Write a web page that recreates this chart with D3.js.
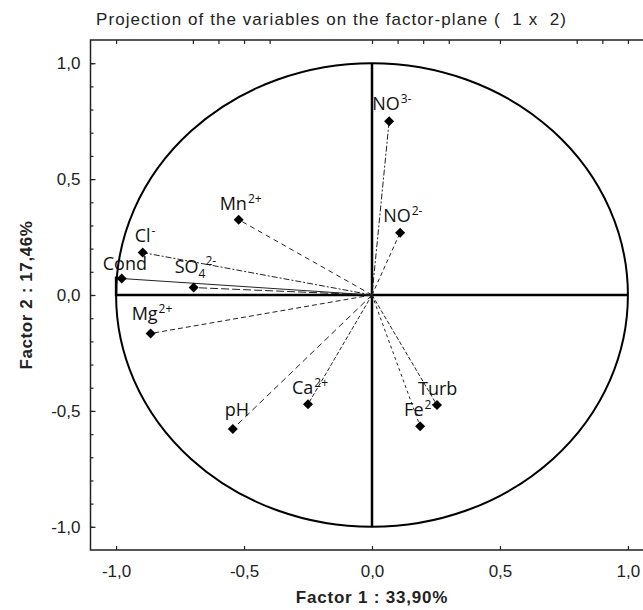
<!DOCTYPE html>
<html>
<head>
<meta charset="utf-8">
<script src="https://cdn.jsdelivr.net/npm/d3@7"></script>
<style>
  body { margin: 0; background: #fff; }
  svg { display: block; }
  .tick text { font-family: "Liberation Sans", Arial, sans-serif; font-size: 17px; fill: #222; }
</style>
</head>
<body>
<script>
// Factor-plane projection (circle of correlations)

// Data
var variables = ["NO3-", "NO2-", "Mn2+", "Cl-", "Cond", "SO42-", "Mg2+", "Ca2+", "pH", "Turb", "Fe2+"];
var factor1 = [0.067, 0.110, -0.521, -0.896, -0.978, -0.697, -0.865, -0.250, -0.544, 0.254, 0.188];
var factor2 = [0.750, 0.269, 0.325, 0.183, 0.071, 0.032, -0.166, -0.471, -0.578, -0.475, -0.566];
var labelBase = ["NO", "NO", "Mn", "Cl", "Cond", "SO", "Mg", "Ca", "pH", "Turb", "Fe"];
var labelSub = ["", "", "", "", "", "4", "", "", "", "", ""];
var labelSup = ["3-", "2-", "2+", "-", "", "2-", "2+", "2+", "", "", "2+"];

var majorTicks = [-1.0, -0.5, 0.0, 0.5, 1.0];
var minorTicks = d3.range(-10, 11).map(function(d) { return d / 10; });
var topTicks = [-1.0, -0.7, -0.6, -0.5, -0.4, 0.0, 0.1, 0.2, 0.3, 0.5, 0.8, 0.9, 1.0];

var titleText = "Projection of the variables on the factor-plane (  1 x  2)";
var xTitle = "Factor 1 : 33,90%";
var yTitle = "Factor 2 : 17,46%";

// Label placement relative to each marker (pixels)
var labelOffset = {
    "NO3-": [-17, -11], "NO2-": [-17, -11], "Mn2+": [-19, -10], "Cl-": [-8, -11],
    "Cond": [-19, -9], "SO42-": [-19, -15], "Mg2+": [-19, -13], "Ca2+": [-16, -10],
    "pH": [-8, -13], "Turb": [-19, -10], "Fe2+": [-16, -10]
};
var dashStyle = {
    "NO3-": "6,2,2,2", "NO2-": "4,3", "Mn2+": "5,4", "Cl-": "6,2,2,2",
    "Cond": "none", "SO42-": "8,3", "Mg2+": "5,3", "Ca2+": "4,2",
    "pH": "6,4", "Turb": "4,2", "Fe2+": "3,3"
};

var w = 643;
var h = 610;

var x = d3.scaleLinear().domain([-1.1, 1.1]).range([90.5, 653.5]);
var y = d3.scaleLinear().domain([-1.1, 1.1]).range([550, 40]);

function fmt(d) {
    return d.toFixed(1).replace(".", ",");
}

var svg = d3.select("body").append("svg")
    .attr("width", w)
    .attr("height", h);

// Title
svg.append("text")
    .attr("x", 96)
    .attr("y", 25)
    .attr("textLength", 470)
    .attr("lengthAdjust", "spacing")
    .style("font-family", "Liberation Sans, Arial, sans-serif")
    .style("font-size", "17px")
    .style("fill", "#222")
    .style("white-space", "pre")
    .text(titleText);

// Axis titles
svg.append("text")
    .attr("x", x(0))
    .attr("y", 603)
    .attr("text-anchor", "middle")
    .style("font-family", "Liberation Sans, Arial, sans-serif")
    .style("font-size", "17px")
    .style("font-weight", "bold")
    .style("letter-spacing", "0.8px")
    .style("fill", "#222")
    .text(xTitle);

svg.append("text")
    .attr("transform", "translate(32," + y(0) + ") rotate(-90)")
    .attr("text-anchor", "middle")
    .style("font-family", "Liberation Sans, Arial, sans-serif")
    .style("font-size", "17px")
    .style("font-weight", "bold")
    .style("letter-spacing", "0.6px")
    .style("fill", "#222")
    .text(yTitle);

// Frame
svg.append("path")
    .attr("d", "M" + w + "," + y.range()[1] + "H" + x.range()[0] + "V" + y.range()[0] + "H" + w)
    .attr("fill", "none")
    .attr("stroke", "#222")
    .attr("stroke-width", 1.5);

// Axes with inward ticks
var gLeftMinor = svg.append("g")
    .attr("transform", "translate(" + x.range()[0] + ",0)")
    .call(d3.axisLeft(y).tickValues(minorTicks).tickSize(-3).tickFormat(""));

var gLeft = svg.append("g")
    .attr("transform", "translate(" + x.range()[0] + ",0)")
    .call(d3.axisLeft(y).tickValues(majorTicks).tickSizeInner(-5).tickSizeOuter(0).tickPadding(10).tickFormat(fmt));

var gBottom = svg.append("g")
    .attr("transform", "translate(0," + y.range()[0] + ")")
    .call(d3.axisBottom(x).tickValues(majorTicks).tickSizeInner(-4).tickSizeOuter(0).tickPadding(15).tickFormat(fmt));

var gTop = svg.append("g")
    .attr("transform", "translate(0," + y.range()[1] + ")")
    .call(d3.axisTop(x).tickValues(topTicks).tickSize(-4).tickFormat(""));

[gLeftMinor, gLeft, gBottom, gTop].forEach(function(g) {
    g.select(".domain").remove();
    g.selectAll(".tick line").attr("stroke", "#222").attr("stroke-width", 1.2);
});

// Unit circle
svg.append("ellipse")
    .attr("cx", x(0))
    .attr("cy", y(0))
    .attr("rx", x(1) - x(0))
    .attr("ry", y(0) - y(1))
    .attr("fill", "none")
    .attr("stroke", "#000")
    .attr("stroke-width", 2);

// Zero axes
svg.append("line")
    .attr("x1", x(0)).attr("x2", x(0))
    .attr("y1", y(1)).attr("y2", y(-1))
    .attr("stroke", "#000").attr("stroke-width", 2.5);

svg.append("path")
    .attr("d", "M" + x(-1) + "," + y(0.08) + "V" + y(0) + "H" + x(1))
    .attr("fill", "none")
    .attr("stroke", "#000").attr("stroke-width", 2.5);

// Vectors from origin
var points = variables.map(function(v, i) {
    return { name: v, f1: factor1[i], f2: factor2[i], base: labelBase[i], sub: labelSub[i], sup: labelSup[i] };
});

svg.append("g").selectAll("line")
    .data(points)
    .enter()
    .append("line")
    .attr("x1", x(0))
    .attr("y1", y(0))
    .attr("x2", function(d) { return x(d.f1); })
    .attr("y2", function(d) { return y(d.f2); })
    .attr("stroke", "#222")
    .attr("stroke-width", 1)
    .attr("stroke-dasharray", function(d) { return dashStyle[d.name]; });

// Labels
var labels = svg.append("g").selectAll("text")
    .data(points)
    .enter()
    .append("text")
    .attr("x", function(d) { return x(d.f1) + labelOffset[d.name][0]; })
    .attr("y", function(d) { return y(d.f2) + labelOffset[d.name][1]; })
    .style("font-family", "Open Sans, sans-serif")
    .style("font-size", "18px")
    .style("fill", "#111");

labels.append("tspan").text(function(d) { return d.base; });

labels.filter(function(d) { return d.sub !== ""; })
    .append("tspan")
    .attr("dy", 5)
    .style("font-size", "12px")
    .text(function(d) { return d.sub; });

labels.filter(function(d) { return d.sup !== ""; })
    .append("tspan")
    .attr("dy", function(d) { return d.sub !== "" ? -13 : -7; })
    .attr("dx", function(d) { return d.sub !== "" ? 0 : 1; })
    .style("font-size", "12px")
    .text(function(d) { return d.sup; });

// Diamond markers
svg.append("g").selectAll("path")
    .data(points)
    .enter()
    .append("path")
    .attr("d", d3.symbol(d3.symbolSquare, 50))
    .attr("transform", function(d) {
        return "translate(" + x(d.f1) + "," + y(d.f2) + ") rotate(45)";
    })
    .attr("fill", "#000");
</script>
</body>
</html>
